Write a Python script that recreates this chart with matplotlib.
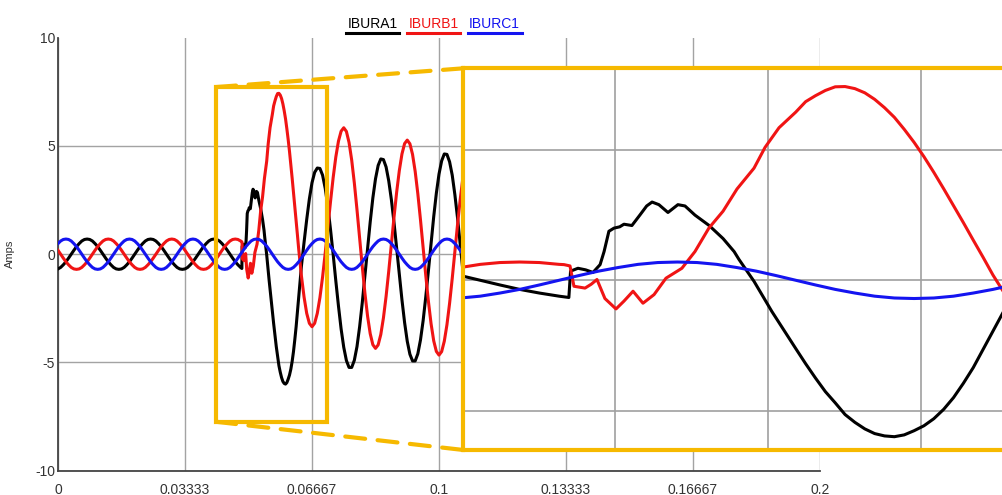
import numpy as np
import matplotlib.pyplot as plt
from matplotlib.patches import Rectangle, ConnectionPatch
from matplotlib.lines import Line2D

plt.rcParams['font.family'] = ['Liberation Sans', 'DejaVu Sans']
plt.rcParams['axes.unicode_minus'] = False

# Phase currents (A), 60 Hz record at 1440 Hz = 24 samples per cycle
fs = 1.44  # samples per ms

# pre-fault samples, k = 0..69
ibura_pre = [
    -0.68, -0.61, -0.49, -0.35, -0.18, 0.00, 0.18, 0.35, 0.49, 0.61, 0.68, 0.70,
    0.68, 0.61, 0.49, 0.35, 0.18, 0.00, -0.18, -0.35, -0.49, -0.61, -0.68, -0.70,
    -0.68, -0.61, -0.49, -0.35, -0.18, 0.00, 0.18, 0.35, 0.49, 0.61, 0.68, 0.70,
    0.68, 0.61, 0.49, 0.35, 0.18, 0.00, -0.18, -0.35, -0.49, -0.61, -0.68, -0.70,
    -0.68, -0.61, -0.49, -0.35, -0.18, 0.00, 0.18, 0.35, 0.49, 0.61, 0.68, 0.70,
    0.68, 0.61, 0.49, 0.35, 0.18, 0.00, -0.18, -0.35, -0.49, -0.61,
]
iburb_pre = [
    0.18, 0.00, -0.18, -0.35, -0.49, -0.61, -0.68, -0.70, -0.68, -0.61, -0.49, -0.35,
    -0.18, 0.00, 0.18, 0.35, 0.49, 0.61, 0.68, 0.70, 0.68, 0.61, 0.49, 0.35,
    0.18, 0.00, -0.18, -0.35, -0.49, -0.61, -0.68, -0.70, -0.68, -0.61, -0.49, -0.35,
    -0.18, 0.00, 0.18, 0.35, 0.49, 0.61, 0.68, 0.70, 0.68, 0.61, 0.49, 0.35,
    0.18, 0.00, -0.18, -0.35, -0.49, -0.61, -0.68, -0.70, -0.68, -0.61, -0.49, -0.35,
    -0.18, 0.00, 0.18, 0.35, 0.49, 0.61, 0.68, 0.70, 0.68, 0.61,
]

# fault transient, points taken at irregular times (ms)
t_fault_a = [48.26, 48.32, 48.58, 48.85, 49.11, 49.36, 49.50, 49.67, 49.85,
             50.05, 50.20, 50.48, 50.76, 51.00, 51.19, 51.43, 51.75, 52.10,
             52.35, 52.70, 53.20, 53.69, 54.08, 54.25, 54.78, 55.41, 56.00]
ibura_fault = [-0.66, 0.35, 0.46, 0.40, 0.30, 0.60, 1.10, 1.88, 2.00,
               2.05, 2.15, 2.10, 2.50, 2.85, 3.00, 2.90, 2.60, 2.90,
               2.85, 2.50, 2.10, 1.60, 1.10, 0.80, -0.04, -1.20, -2.20]
t_fault_b = [48.09, 48.30, 48.44, 48.83, 49.05, 49.25, 49.53, 49.92, 50.20,
             50.52, 50.87, 51.26, 51.68, 52.24, 52.70, 53.19, 53.69, 54.18,
             54.78, 55.17, 55.66]
iburb_fault = [0.60, 0.55, -0.23, -0.30, -0.15, 0.03, -0.70, -1.10, -0.80,
               -0.42, -0.88, -0.55, 0.08, 0.46, 1.10, 2.00, 2.65, 3.50,
               4.30, 5.10, 5.85]

# first post-fault swing at half steps, k = 81, 81.5 .. 92
ibura_swing = [
    -2.62, -3.20, -3.75, -4.27, -4.70, -5.15, -5.45, -5.70, -5.88, -5.97, -6.00, -5.93,
    -5.77, -5.58, -5.31, -4.95, -4.50, -3.95, -3.35, -2.65, -1.95, -1.25, -0.55,
]
iburb_swing = [
    6.45, 6.85, 7.08, 7.28, 7.42, 7.43, 7.35, 7.19, 6.94, 6.62, 6.25, 5.79,
    5.29, 4.74, 4.14, 3.51, 2.86, 2.21, 1.54, 0.88, 0.20, -0.40, -1.00,
]

# post-fault samples, k = 93..154
ibura_post = [
    0.55, 1.60, 2.55, 3.30, 3.78, 3.98, 3.96, 3.65, 3.04, 2.19, 1.14, -0.01,
    -1.23, -2.39, -3.45, -4.30, -4.91, -5.23, -5.23, -4.90, -4.27, -3.35, -2.24, -1.00,
    0.27, 1.49, 2.60, 3.48, 4.10, 4.40, 4.37, 4.03, 3.39, 2.52, 1.46, 0.27,
    -0.93, -2.11, -3.16, -4.02, -4.62, -4.93, -4.93, -4.60, -3.96, -3.07, -1.97, -0.76,
    0.51, 1.73, 2.82, 3.70, 4.31, 4.63, 4.61, 4.27, 3.65, 2.75, 1.68, 0.47,
    -0.75, -1.93,
]
iburb_post = [
    -1.98, -2.73, -3.19, -3.35, -3.19, -2.73, -2.00, -1.05, 0.06, 1.25, 2.43, 3.54,
    4.49, 5.22, 5.68, 5.84, 5.67, 5.16, 4.35, 3.29, 2.06, 0.75, -0.57, -1.80,
    -2.86, -3.67, -4.18, -4.35, -4.19, -3.71, -2.94, -1.95, -0.79, 0.46, 1.71, 2.87,
    3.86, 4.63, 5.11, 5.27, 5.10, 4.61, 3.82, 2.79, 1.59, 0.31, -0.98, -2.18,
    -3.21, -4.00, -4.49, -4.66, -4.50, -4.02, -3.26, -2.27, -1.12, 0.12, 1.36, 2.51,
    3.50, 4.26,
]

# phase C barely moves, k = 0..154
iburc = [
    0.49, 0.61, 0.68, 0.70, 0.68, 0.61, 0.49, 0.35, 0.18, 0.00, -0.18, -0.35,
    -0.49, -0.61, -0.68, -0.70, -0.68, -0.61, -0.49, -0.35, -0.18, 0.00, 0.18, 0.35,
    0.49, 0.61, 0.68, 0.70, 0.68, 0.61, 0.49, 0.35, 0.18, 0.00, -0.18, -0.35,
    -0.49, -0.61, -0.68, -0.70, -0.68, -0.61, -0.49, -0.35, -0.18, 0.00, 0.18, 0.35,
    0.49, 0.61, 0.68, 0.70, 0.68, 0.61, 0.49, 0.35, 0.18, 0.00, -0.18, -0.35,
    -0.49, -0.61, -0.68, -0.70, -0.68, -0.61, -0.49, -0.35, -0.18, 0.00, 0.18, 0.35,
    0.49, 0.61, 0.68, 0.70, 0.68, 0.61, 0.49, 0.35, 0.18, 0.00, -0.18, -0.35,
    -0.49, -0.61, -0.68, -0.70, -0.68, -0.61, -0.49, -0.35, -0.18, 0.00, 0.18, 0.35,
    0.49, 0.61, 0.68, 0.70, 0.68, 0.61, 0.49, 0.35, 0.18, 0.00, -0.18, -0.35,
    -0.49, -0.61, -0.68, -0.70, -0.68, -0.61, -0.49, -0.35, -0.18, 0.00, 0.18, 0.35,
    0.49, 0.61, 0.68, 0.70, 0.68, 0.61, 0.49, 0.35, 0.18, 0.00, -0.18, -0.35,
    -0.49, -0.61, -0.68, -0.70, -0.68, -0.61, -0.49, -0.35, -0.18, 0.00, 0.18, 0.35,
    0.49, 0.61, 0.68, 0.70, 0.68, 0.61, 0.49, 0.35, 0.18, 0.00, -0.18,
]

names = ['IBURA1', 'IBURB1', 'IBURC1']
colors = ['#000000', '#f01414', '#1414f0']

x_ticks = [0, 1/30, 2/30, 3/30, 4/30, 5/30, 6/30]
x_labels = ['0', '0.03333', '0.06667', '0.1', '0.13333', '0.16667', '0.2']
y_ticks = [-10, -5, 0, 5, 10]

gold = '#f6b900'

# time axes in seconds
t_pre = np.arange(len(ibura_pre)) / fs
t_swing = (81 + 0.5 * np.arange(len(ibura_swing))) / fs
t_post = (93 + np.arange(len(ibura_post))) / fs
t_a = np.concatenate([t_pre, t_fault_a, t_swing, t_post]) / 1000
i_a = np.concatenate([ibura_pre, ibura_fault, ibura_swing, ibura_post])
t_b = np.concatenate([t_pre, t_fault_b, t_swing, t_post]) / 1000
i_b = np.concatenate([iburb_pre, iburb_fault, iburb_swing, iburb_post])
t_c = np.arange(len(iburc)) / fs / 1000
i_c = np.array(iburc)
series = [(t_a, i_a), (t_b, i_b), (t_c, i_c)]

W, H = 1003, 495
fig = plt.figure(figsize=(W / 100, H / 100), dpi=100)

# main plot
ax = fig.add_axes([58 / W, 24.3 / H, 762 / W, 433 / H])
for (t, i), c in zip(series, colors):
    ax.plot(t, i, color=c, lw=2.2, solid_joinstyle='round', zorder=3)

ax.set_xlim(0, 0.2)
ax.set_ylim(-10, 10)
ax.set_xticks(x_ticks)
ax.set_xticklabels(x_labels)
ax.set_yticks(y_ticks)
ax.tick_params(length=0, labelsize=10, colors='#333333')
ax.tick_params(axis='x', pad=8.5)
ax.tick_params(axis='y', pad=2)
ax.grid(True, color='#a3a3a3', lw=1)
ax.yaxis.get_gridlines()[-1].set_visible(False)
for s in ['top', 'right']:
    ax.spines[s].set_visible(False)
for s in ['left', 'bottom']:
    ax.spines[s].set_color('#444444')
    ax.spines[s].set_linewidth(1.3)
ax.set_ylabel('Amps', fontsize=8, color='#333333')
ax.yaxis.set_label_coords(-0.056, 0.5)

# zoom box
x0, x1 = 0.0415, 0.0706
y0, y1 = -7.74, 7.72
ax.add_patch(Rectangle((x0, y0), x1 - x0, y1 - y0, fill=False, ec=gold, lw=3, zorder=5))

# zoomed view
axins = fig.add_axes([463.5 / W, 45 / H, (1015 - 463.5) / W, 381.7 / H])
for (t, i), c in zip(series, colors):
    axins.plot(t, i, color=c, lw=2.2, solid_joinstyle='round')
axins.set_xlim(0.04455, 0.06397)
axins.set_ylim(-6.51, 8.13)
axins.set_xticks([0.04988, 0.05527, 0.06066])
axins.set_yticks([-5, 0, 5])
axins.tick_params(length=0, labelbottom=False, labelleft=False)
axins.grid(True, color='#a0a0a0', lw=1.2)
for s in axins.spines.values():
    s.set_color(gold)
    s.set_linewidth(3)

for ya, yb in [(y1, 1), (y0, 0)]:
    cp = ConnectionPatch(xyA=(x0, ya), coordsA=ax.transData,
                         xyB=(0, yb), coordsB=axins.transAxes,
                         color=gold, lw=3, ls=(0, (4.8, 3)))
    fig.add_artist(cp)

# legend: label with a colour bar underneath
for k, (n, c) in enumerate(zip(names, colors)):
    xc = (372.5 + 61 * k) / W
    fig.text(xc, 1 - 24.5 / H, n, color=c, fontsize=10, ha='center', va='center')
    fig.add_artist(Line2D([xc - 27 / W, xc + 27 / W], [1 - 33 / H, 1 - 33 / H],
                          color=c, lw=2.2, transform=fig.transFigure))

fig.savefig('out.png', dpi=100)
